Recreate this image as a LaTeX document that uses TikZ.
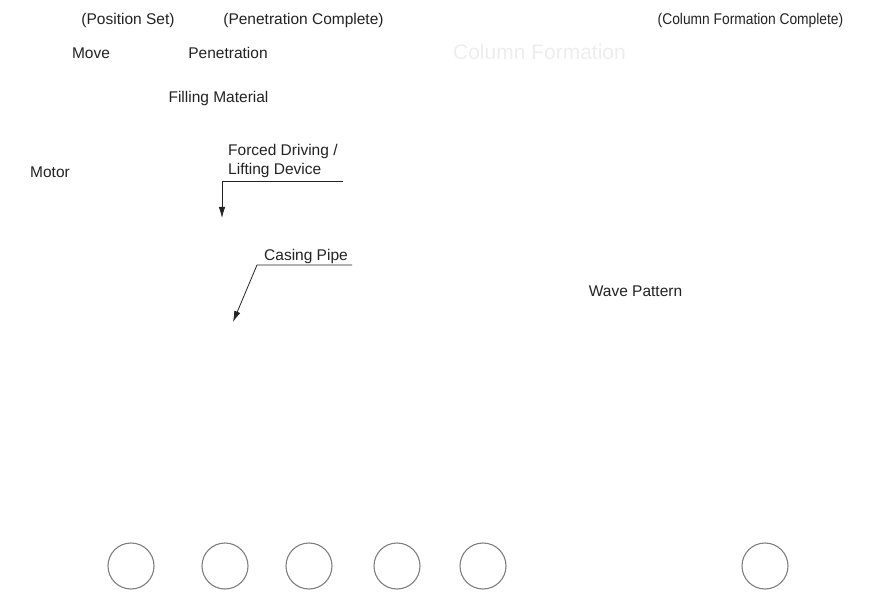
\documentclass[tikz,border=0pt]{standalone}
\usepackage{fontspec}
\setmainfont{Liberation Sans}
\usetikzlibrary{positioning,arrows.meta}
\definecolor{uInk}{HTML}{222222}
\definecolor{uRing}{HTML}{7F7F7F}
\definecolor{uGhost}{HTML}{EDEDED}
\tikzset{
  lbl/.style={font=\fontsize{15.5}{19}\selectfont, text=uInk, inner sep=0pt,
              anchor=base},
  multi/.style={lbl, align=left, anchor=base west},
  ghost/.style={font=\fontsize{21}{25}\selectfont, text=uGhost, inner sep=0pt,
                anchor=base},
  hole/.style={circle, draw=uRing, line width=1.1pt, minimum size=46pt,
               inner sep=0pt},
  % leader lines from a label down to the part it names
  lead/.style={-{Latex[length=11pt,width=6.5pt]}, draw=uInk, line width=0.8pt},
}
\newcommand{\narrowtext}[1]{\scalebox{0.89}[1]{#1}}

\begin{document}
\begin{tikzpicture}[x=1pt, y=-1pt]
\useasboundingbox (0,0) rectangle (871,596);

%% ── stage captions along the top ──────────────────────────────────────────
\node[lbl] (posset)  at (128,24.5)   {(Position Set)};
\node[lbl] (pendone) at (303.5,24.5) {(Penetration Complete)};
\node[lbl] (coldone) at (750.5,24.5) {\narrowtext{(Column Formation Complete)}};

\node[lbl]   (move)  at (91,58.5)    {Move};
\node[lbl]   (pen)   at (228,58.5)   {Penetration};
\node[ghost] (colf)  at (539.5,59.5) {Column Formation};

%% ── part names ────────────────────────────────────────────────────────────
\node[lbl]   (fill)  at (218.5,102.5) {Filling Material};
\node[lbl]   (motor) at (50,177.5)    {Motor};
% base of a two-line node is the last line
\node[multi] (drive) at (228,174.5)   {Forced Driving /\\Lifting Device};
\node[multi] (pipe)  at (264,260.5)   {Casing Pipe};
\node[lbl]   (wave)  at (635.5,296.5) {Wave Pattern};

%% ── leaders ───────────────────────────────────────────────────────────────
\coordinate (driveEnd) at (343,181);
\coordinate (driveTip) at (222,218);
\draw[lead] (driveEnd) -| (driveTip);

\coordinate (pipeEnd)  at (352,265);
\coordinate (pipeKnee) at (257,265);
\coordinate (pipeTip)  at (233,322);
\draw[lead] (pipeEnd) -- (pipeKnee) -- (pipeTip);

%% ── column positions in plan ──────────────────────────────────────────────
\foreach \n/\x in {1/131, 2/225, 3/309, 4/397, 5/483, 6/765}
  \node[hole] (hole\n) at (\x,566) {};

\end{tikzpicture}
\end{document}
